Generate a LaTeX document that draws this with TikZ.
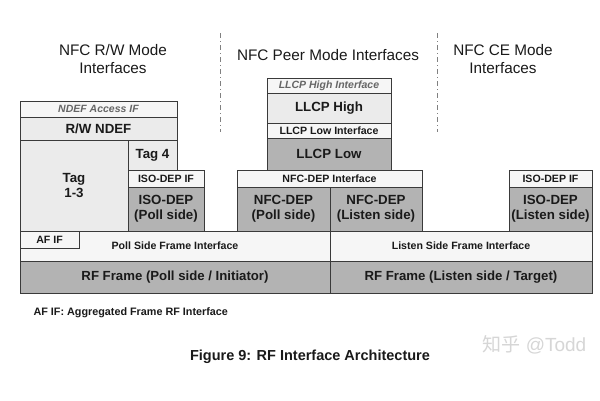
\documentclass[tikz,border=0pt]{standalone}
\usepackage{fontspec}
\setmainfont{Liberation Sans}
\newfontfamily\cjk{Noto Sans CJK SC}
\definecolor{lightbox}{HTML}{EBEBEB}
\definecolor{ifbox}{HTML}{F6F6F6}
\definecolor{darkbox}{HTML}{B3B3B3}
\definecolor{edge}{HTML}{3A3A3A}
\definecolor{txt}{HTML}{1A1A1A}
\definecolor{ittxt}{HTML}{666666}
\definecolor{wm}{HTML}{D6D6D6}
\tikzset{
  box/.style={draw=edge, line width=1pt, inner sep=0pt, outer sep=0pt, anchor=north west, align=center, text=txt, font=\bfseries\fontsize{13.3}{15}\selectfont},
  lightb/.style={box, fill=lightbox},
  darkb/.style={box, fill=darkbox},
  ifb/.style={box, fill=ifbox, font=\bfseries\fontsize{10.6}{12}\selectfont},
  itif/.style={box, fill=ifbox, text=ittxt, font=\bfseries\itshape\fontsize{10.5}{12}\selectfont},
  head/.style={align=center, text=txt, font=\fontsize{15.3}{17.5}\selectfont},
  sep/.style={draw=gray, line width=0.8pt, dash pattern=on 5pt off 3pt on 1pt off 3pt},
}
\begin{document}
\begin{tikzpicture}[x=1pt,y=-1pt]
\useasboundingbox (0,0) rectangle (600,400);
\fill[white] (0,0) rectangle (600,400);
% headings
\node[head] (h1) at (113,59) {NFC R/W Mode\\Interfaces};
\node[head] (h2) at (328,55) {NFC Peer Mode Interfaces};
\node[head] (h3) at (503,59) {NFC CE Mode\\Interfaces};
\coordinate (s1a) at (220,33); \coordinate (s1b) at (220,132);
\coordinate (s2a) at (437,33); \coordinate (s2b) at (437,132);
\draw[sep] (s1a) -- (s1b);
\draw[sep] (s2a) -- (s2b);
% R/W column
\node[itif, minimum width=157, minimum height=16] (ndefif) at (20,101) {NDEF Access IF};
\node[lightb, minimum width=157, minimum height=23] (rwndef) at (20,117) {R/W NDEF};
\node[lightb, minimum width=108, minimum height=91] (tag13) at (20,140) {Tag\\1-3};
\node[lightb, minimum width=49, minimum height=30] (tag4) at (128,140) {Tag 4};
\node[ifb, minimum width=76, minimum height=17] (isoifp) at (128,170) {ISO-DEP IF};
\node[darkb, minimum width=76, minimum height=44] (isop) at (128,187) {ISO-DEP\\(Poll side)};
% peer column
\node[itif, minimum width=124, minimum height=15] (llcphif) at (267,78) {LLCP High Interface};
\node[lightb, minimum width=124, minimum height=30] (llcph) at (267,93) {LLCP High};
\node[ifb, minimum width=124, minimum height=15] (llcplif) at (267,123) {LLCP Low Interface};
\node[darkb, minimum width=124, minimum height=32] (llcpl) at (267,138) {LLCP Low};
\node[ifb, minimum width=185, minimum height=17] (nfcif) at (237,170) {NFC-DEP Interface};
\node[darkb, minimum width=93, minimum height=44] (nfcp) at (237,187) {NFC-DEP\\(Poll side)};
\node[darkb, minimum width=92, minimum height=44] (nfcl) at (330,187) {NFC-DEP\\(Listen side)};
% CE column
\node[ifb, minimum width=83, minimum height=17] (isoifl) at (509,170) {ISO-DEP IF};
\node[darkb, minimum width=83, minimum height=44] (isol) at (509,187) {ISO-DEP\\(Listen side)};
% frame interfaces
\node[ifb, minimum width=310, minimum height=30] (pollfi) at (20,231) {Poll Side Frame Interface};
\node[ifb, minimum width=262, minimum height=30] (listfi) at (330,231) {Listen Side Frame Interface};
\node[ifb, minimum width=59, minimum height=17] (afif) at (20,231) {AF IF};
% RF frames
\node[darkb, minimum width=310, minimum height=32, font=\bfseries\fontsize{13.2}{15}\selectfont] (rfp) at (20,261) {RF Frame (Poll side / Initiator)};
\node[darkb, minimum width=262, minimum height=32, font=\bfseries\fontsize{13.2}{15}\selectfont] (rfl) at (330,261) {RF Frame (Listen side / Target)};
% notes
\node[anchor=west, text=txt, font=\bfseries\fontsize{10.8}{12}\selectfont] (note) at (30,313) {AF IF: Aggregated Frame RF Interface};
\node[text=txt, font=\bfseries\fontsize{14.5}{16}\selectfont] (cap) at (310,357) {Figure 9: RF Interface Architecture};
\node[anchor=west, text=wm, font=\fontsize{19}{21}\selectfont] (wmk) at (479,345) {{\cjk 知乎} @Todd};
\end{tikzpicture}
\end{document}
